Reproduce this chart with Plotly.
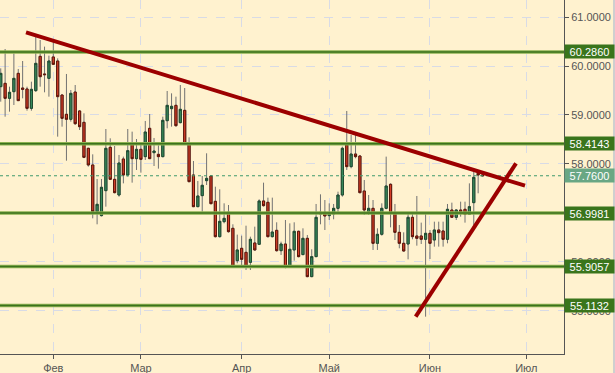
import plotly.graph_objects as go
import pandas as pd

# ---------------- data ----------------
first_day = "2017-01-16"
opens = [59.578, 59.646, 59.340, 59.476, 59.850, 59.551, 59.531, 59.136, 59.497, 60.197,
         59.837, 59.748, 60.184, 60.102, 59.408, 59.014, 58.912, 59.469, 59.082, 58.850,
         58.320, 57.980, 57.027, 56.946, 57.456, 58.340, 57.687, 57.367, 58.102, 57.776,
         58.401, 58.109, 58.299, 58.150, 58.728, 58.231, 58.197, 58.150, 58.884, 59.129,
         59.197, 58.844, 59.095, 58.401, 57.776, 57.129, 57.354, 57.660, 57.755, 57.238,
         56.517, 56.823, 57.014, 56.687, 56.027, 56.279, 56.197, 55.993, 56.388, 56.361,
         57.245, 57.218, 56.517, 56.646, 56.231, 56.367, 55.925, 56.245, 56.626, 56.150,
         56.483, 55.701, 56.109, 57.014, 57.014, 56.946, 56.980, 57.095, 57.367, 58.388,
         57.946, 58.204, 58.163, 57.449, 57.027, 57.095, 56.381, 56.565, 57.095, 57.585,
         56.993, 56.605, 56.381, 56.367, 56.912, 56.531, 56.531, 56.463, 56.585, 56.449,
         56.653, 56.633, 56.463, 57.061, 56.912, 57.061, 57.075, 56.973, 57.211, 57.810,
         57.776]
highs = [59.952, 60.347, 59.578, 60.259, 59.939, 60.102, 59.578, 59.680, 60.633, 60.531,
         60.395, 60.211, 60.544, 60.156, 59.420, 59.837, 59.510, 59.612, 59.100, 59.034,
         58.330, 58.197, 57.694, 57.694, 58.714, 58.524, 58.367, 58.184, 58.150, 58.714,
         58.660, 58.510, 58.422, 58.878, 59.020, 58.531, 58.381, 58.966, 59.490, 59.442,
         59.374, 59.612, 59.551, 58.544, 58.061, 57.653, 57.755, 58.218, 57.770, 57.537,
         57.483, 57.197, 57.163, 56.769, 56.558, 56.537, 56.741, 56.517, 56.721, 57.279,
         57.619, 57.313, 57.313, 56.810, 56.415, 56.857, 56.789, 56.810, 56.640, 56.687,
         56.551, 56.259, 57.184, 57.381, 57.265, 57.197, 57.184, 57.435, 58.354, 59.082,
         58.592, 58.592, 58.180, 57.673, 57.367, 57.265, 56.687, 57.197, 58.150, 57.605,
         57.184, 56.755, 56.605, 56.993, 56.993, 57.347, 56.803, 56.980, 56.653, 56.823,
         56.823, 56.823, 57.184, 57.211, 57.075, 57.231, 57.231, 57.605, 57.843, 57.843,
         57.800]
lows = [59.272, 58.966, 59.068, 59.204, 59.286, 59.340, 59.088, 59.088, 59.470, 59.578,
        59.463, 59.374, 60.020, 58.558, 58.762, 58.068, 58.864, 58.796, 58.694, 58.120,
        57.946, 56.891, 56.769, 56.930, 57.129, 57.673, 57.401, 57.333, 57.605, 57.741,
        57.619, 57.878, 57.823, 58.082, 58.102, 57.959, 57.905, 58.136, 58.728, 58.762,
        58.762, 58.830, 58.390, 57.630, 57.120, 57.120, 57.027, 57.571, 57.180, 56.500,
        56.500, 56.789, 56.599, 55.890, 55.973, 55.905, 55.837, 55.837, 56.231, 56.350,
        57.129, 56.500, 56.500, 56.211, 56.143, 55.871, 55.905, 56.027, 56.095, 56.143,
        55.690, 55.690, 56.100, 56.769, 56.653, 56.857, 56.871, 56.993, 57.333, 57.878,
        57.912, 58.116, 57.400, 56.959, 56.959, 56.245, 56.245, 56.537, 57.075, 56.707,
        56.449, 56.279, 56.211, 56.054, 56.463, 56.333, 56.367, 54.884, 56.061, 56.313,
        56.313, 56.313, 56.381, 56.900, 56.857, 56.925, 56.803, 56.959, 56.755, 57.402,
        57.750]
closes = [59.850, 59.340, 59.463, 59.748, 59.293, 59.524, 59.136, 59.524, 60.054, 59.782,
          59.823, 60.102, 60.034, 59.374, 58.932, 58.912, 59.442, 58.823, 58.762, 58.136,
          57.980, 57.027, 57.177, 57.524, 58.320, 57.687, 57.415, 58.020, 57.776, 58.272,
          58.109, 58.299, 58.095, 58.653, 58.109, 58.265, 58.150, 58.891, 59.197, 59.177,
          58.782, 59.116, 58.401, 57.639, 57.129, 57.347, 57.565, 57.707, 57.190, 56.517,
          56.830, 56.891, 56.619, 55.905, 56.245, 56.054, 55.905, 56.463, 56.245, 57.245,
          57.150, 56.517, 56.612, 56.231, 56.367, 55.891, 56.259, 56.626, 56.109, 56.483,
          55.701, 56.109, 56.912, 56.980, 56.939, 56.980, 57.095, 57.367, 58.320, 57.946,
          58.204, 58.150, 57.415, 57.061, 57.095, 56.381, 56.565, 57.095, 57.551, 56.993,
          56.605, 56.381, 56.224, 56.912, 56.517, 56.483, 56.463, 56.585, 56.381, 56.653,
          56.599, 56.463, 57.075, 56.912, 57.061, 57.027, 56.973, 57.129, 57.728, 57.776,
          57.760]

month_labels = ["Фев", "Мар", "Апр", "Май", "Июн", "Июл"]
month_numbers = [2, 3, 4, 5, 6, 7]

level_values = [60.2860, 58.4143, 56.9981, 55.9057, 55.1132]
last_price = 57.7600

# trend lines: (bar position, price) pairs
resistance_pos = [5.77, 119.7]
resistance_px = [60.688, 57.557]
support_pos = [94.74, 117.64]
support_px = [54.884, 58.014]

y_ticks = [55, 56, 57, 58, 59, 60, 61]

# ---------------- build ----------------
calendar = pd.bdate_range(first_day, "2017-07-31")
x = list(range(len(opens)))
tick_pos = [int(next(i for i, d in enumerate(calendar) if d.month == m)) for m in month_numbers]

body_hi = [max(o, c) for o, c in zip(opens, closes)]
body_lo = [min(o, c) for o, c in zip(opens, closes)]

BG = "#fff2cf"
AX = "#555555"
WICK = "#727272"
FONT = "Arial, Liberation Sans, sans-serif"

fig = go.Figure()
# wicks
fig.add_trace(go.Candlestick(
    x=x, open=opens, high=highs, low=lows, close=closes,
    increasing=dict(line=dict(color=WICK, width=1), fillcolor=WICK),
    decreasing=dict(line=dict(color=WICK, width=1), fillcolor=WICK),
    whiskerwidth=0, hoverinfo="skip", showlegend=False))
# bodies
fig.add_trace(go.Candlestick(
    x=x, open=opens, high=body_hi, low=body_lo, close=closes,
    increasing=dict(line=dict(color="#1e4a30", width=1), fillcolor="#3a8c5c"),
    decreasing=dict(line=dict(color="#5e1509", width=1), fillcolor="#d63e28"),
    whiskerwidth=0, hoverinfo="skip", showlegend=False))

shapes = []
for lv in level_values:
    shapes.append(dict(type="line", xref="paper", x0=0, x1=1, yref="y", y0=lv, y1=lv,
                       line=dict(color="#8bb150", width=3.5), layer="above"))
    shapes.append(dict(type="line", xref="paper", x0=0, x1=1, yref="y", y0=lv, y1=lv,
                       line=dict(color="#3b721d", width=1.5), layer="above"))
shapes.append(dict(type="line", xref="paper", x0=0, x1=1, yref="y", y0=last_price, y1=last_price,
                   line=dict(color="#3f9a6c", width=1, dash="dot"), layer="above"))
for px_, py_ in [(resistance_pos, resistance_px), (support_pos, support_px)]:
    shapes.append(dict(type="line", xref="x", yref="y", x0=px_[0], x1=px_[1], y0=py_[0], y1=py_[1],
                       line=dict(color="#9c0000", width=4), layer="above"))
# right frame strip
shapes.append(dict(type="rect", xref="paper", yref="paper", x0=613 / 564, x1=615 / 564,
                   y0=-19 / 354, y1=1, fillcolor="#cfcfcf", line=dict(width=0), layer="above"))

annotations = []
for lv in level_values:
    annotations.append(dict(xref="paper", x=1, xanchor="left", yref="y", y=lv, yanchor="middle",
                            text=f"{lv:.4f}", showarrow=False, bgcolor="#3a751c",
                            font=dict(color="white", size=11, family=FONT),
                            width=47, height=11, borderpad=1, align="center"))
annotations.append(dict(xref="paper", x=1, xanchor="left", yref="y", y=last_price, yanchor="middle",
                        text=f"{last_price:.4f}", showarrow=False, bgcolor="#69a784",
                        font=dict(color="white", size=11, family=FONT),
                        width=47, height=11, borderpad=1, align="center"))

fig.update_layout(
    width=615, height=373,
    margin=dict(l=0, r=51, t=0, b=19, pad=0),
    paper_bgcolor=BG, plot_bgcolor=BG,
    showlegend=False, boxmode="overlay",
    shapes=shapes, annotations=annotations,
    font=dict(family=FONT, size=11, color=AX),
    xaxis=dict(range=[-0.17, 128.6], tickvals=tick_pos, ticktext=month_labels,
               showgrid=True, gridcolor="#d8dbe6", griddash="dash", gridwidth=1,
               ticks="outside", ticklen=4, tickcolor=AX, showline=True, linecolor=AX,
               linewidth=1, zeroline=False, rangeslider=dict(visible=False),
               tickfont=dict(size=11, color=AX)),
    yaxis=dict(range=[54.122, 61.347], side="right", tickvals=y_ticks,
               ticktext=[f"{v:.4f}" for v in y_ticks],
               showgrid=True, gridcolor="#d8dbe6", griddash="dash", gridwidth=1,
               ticks="outside", ticklen=4, tickcolor=AX, showline=True, linecolor=AX,
               linewidth=1, zeroline=False, tickfont=dict(size=11, color=AX)),
)

fig.write_html("out.html", config={"displayModeBar": False},
               post_script="document.body.style.margin='0';document.body.style.padding='0';"
                           "document.body.style.overflow='hidden';")
